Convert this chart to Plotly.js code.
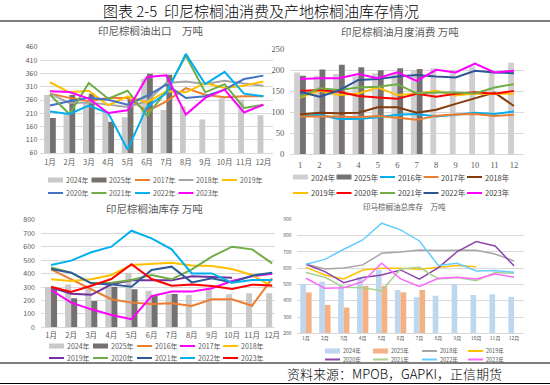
<!DOCTYPE html>
<html><head><meta charset="utf-8">
<script src="https://cdn.plot.ly/plotly-3.0.1.min.js"></script>
<style>html,body{margin:0;padding:0;background:#fff}#c{width:550px;height:385px}</style>
</head><body><div id="c"></div>
<script>
// ---------- DATA ----------
const months = ['1月','2月','3月','4月','5月','6月','7月','8月','9月','10月','11月','12月'];
const nums = ['1','2','3','4','5','6','7','8','9','10','11','12'];

// 印尼棕榈油出口 万吨
const exp2024 = [279, 210, 250, 218, 195, 340, 222, 235, 186, 267, 262, 202];
const exp2025 = [192, 279, 284, 178, 264, 359, 355];
const exp2017 = [284, 268, 255, 268, 268, 217, 255, 305, 280, 270, 274, 274];
const exp2018 = [284, 249, 251, 242, 234, 255, 324, 330, 320, 333, 322, 314];
const exp2019 = [327, 289, 295, 240, 274, 251, 293, 289, 324, 305, 314, 330];
const exp2020 = [239, 255, 268, 261, 242, 276, 318, 268, 274, 299, 339, 352];
const exp2021 = [280, 207, 324, 265, 295, 201, 293, 427, 289, 320, 230, 242];
const exp2022 = [217, 207, 239, 211, 73, 234, 286, 434, 320, 366, 284, 274];
const exp2023 = [293, 290, 265, 211, 221, 347, 353, 205, 268, 299, 213, 242];

// 印尼棕榈油月度消费 万吨
const con2024 = [195, 187, 191, 186, 193, 193, 201, 205, 201, 209, 201, 218];
const con2025 = [187, 202, 213, 207, 200, 205, 203];
const con2016 = [90, 94, 84, 84, 88, 94, 96, 90, 94, 99, 96, 102];
const con2017 = [90, 90, 90, 88, 91, 87, 82, 92, 95, 96, 91, 94];
const con2018 = [95, 99, 98, 99, 112, 112, 99, 106, 120, 133, 147, 115];
const con2019 = [135, 151, 141, 145, 159, 141, 144, 151, 140, 145, 144, 144];
const con2020 = [151, 153, 149, 139, 135, 132, 144, 137, 144, 148, 144, 151];
const con2021 = [137, 157, 153, 159, 161, 167, 145, 147, 147, 145, 159, 167];
const con2022 = [149, 137, 152, 177, 179, 185, 189, 185, 183, 199, 195, 193];
const con2023 = [179, 181, 181, 191, 181, 195, 175, 201, 195, 216, 195, 199];

// 印尼棕榈油库存 万吨
const stk2024 = [298, 320, 303, 330, 407, 273, 246, 241, 291, 246, 253, 253];
const stk2025 = [291, 216, 196, 303, 283, 233, 248];
const stk2016 = [432, 358, 283, 209, 184, 174, 179, 159, 209, 209, 161, 365];
const stk2017 = [278, 184, 134, 92, 60, 233, 266, 266, 291, 345, 380, 400];
const stk2018 = [358, 345, 358, 390, 464, 472, 482, 460, 457, 435, 390, 303];
const stk2019 = [298, 250, 242, 320, 350, 350, 350, 380, 375, 370, null, null];
const stk2020 = [447, 407, 328, 333, 353, 390, 358, 432, 527, 601, 581, 477];
const stk2021 = [435, 407, 328, 320, 303, 427, 452, 335, 365, 335, 385, 407];
const stk2022 = [464, 497, 559, 601, 720, 663, 581, 402, 402, 333, 353, 353];
const stk2023 = [303, 263, 310, 360, 470, 360, 310, 320, 308, 285, 318, 312];

// 印马棕榈油总库存 万吨
const tot2024 = [503, 517, 493, 544, 589, 466, 421, 431, 503, 435, 440, 425];
const tot2025 = [450, 374, 358, 491, 491, 452, 466];
const tot2018 = [624, 595, 601, 620, 691, 699, 712, 708, 710, 710, 687, 644];
const tot2019 = [605, 558, 534, 589, 599, 599, 593, 603, 616, 609, null, null];
const tot2020 = [624, 579, 511, 542, 558, 589, 532, 603, 702, 763, 736, 614];
const tot2021 = [573, 544, 482, 480, 462, 595, 605, 534, 542, 523, 573, 568];
const tot2022 = [624, 654, 716, 773, 876, 835, 767, 616, 630, 583, 585, 575];
const tot2023 = [538, 476, 480, 517, 630, 534, 487, 538, 544, 534, 564, 544];

// ---------- PANELS ----------
const W = 550, H = 385;
const PX = v => v / W, PY = v => 1 - v / H;
const CJK = '"Noto Sans CJK SC", "Noto Sans", sans-serif';

const panels = [
  { ax: '', cats: months, lw: 2,
    series: [
      {name:'2024年', y:exp2024, c:'#C9C9C9', bar:true},
      {name:'2025年', y:exp2025, c:'#767171', bar:true},
      {name:'2017年', y:exp2017, c:'#ED7D31'},
      {name:'2018年', y:exp2018, c:'#A5A5A5'},
      {name:'2019年', y:exp2019, c:'#FFC000'},
      {name:'2020年', y:exp2020, c:'#4472C4'},
      {name:'2021年', y:exp2021, c:'#70AD47'},
      {name:'2022年', y:exp2022, c:'#00B0F0'},
      {name:'2023年', y:exp2023, c:'#FF00FF'}],
    leg: {xs:[48,91.5,135,178.5,222], ys:[180,193], fs:7, sw:15, perRow:5, col:'#595959'} },
  { ax: '2', cats: nums, lw: 2,
    series: [
      {name:'2024年', y:con2024, c:'#D0CECE', bar:true},
      {name:'2025年', y:con2025, c:'#767171', bar:true},
      {name:'2016年', y:con2016, c:'#00B0F0'},
      {name:'2017年', y:con2017, c:'#ED7D31'},
      {name:'2018年', y:con2018, c:'#843C0C'},
      {name:'2019年', y:con2019, c:'#FFC000'},
      {name:'2020年', y:con2020, c:'#FF0000'},
      {name:'2021年', y:con2021, c:'#70AD47'},
      {name:'2022年', y:con2022, c:'#2F5597'},
      {name:'2023年', y:con2023, c:'#FF00FF'}],
    leg: {xs:[293,336.5,380,423.5,467], ys:[177,193], fs:7.5, sw:15, perRow:5, col:'#404040'} },
  { ax: '3', cats: months, lw: 2,
    series: [
      {name:'2024年', y:stk2024, c:'#C9C9C9', bar:true},
      {name:'2025年', y:stk2025, c:'#767171', bar:true},
      {name:'2016年', y:stk2016, c:'#ED7D31'},
      {name:'2017年', y:stk2017, c:'#FF00FF'},
      {name:'2018年', y:stk2018, c:'#FFC000'},
      {name:'2019年', y:stk2019, c:'#7030A0'},
      {name:'2020年', y:stk2020, c:'#70AD47'},
      {name:'2021年', y:stk2021, c:'#2E5C9A'},
      {name:'2022年', y:stk2022, c:'#00B0F0'},
      {name:'2023年', y:stk2023, c:'#FF0000'}],
    leg: {xs:[49,93,137,180,223], ys:[346,358], fs:7, sw:15, perRow:5, col:'#595959'} },
  { ax: '4', cats: months, lw: 1.5,
    series: [
      {name:'2024年', y:tot2024, c:'#BDD7EE', bar:true},
      {name:'2025年', y:tot2025, c:'#F4B183', bar:true},
      {name:'2018年', y:tot2018, c:'#A5A5A5'},
      {name:'2019年', y:tot2019, c:'#FFC000'},
      {name:'2020年', y:tot2020, c:'#8E44AD'},
      {name:'2021年', y:tot2021, c:'#A9D18E'},
      {name:'2022年', y:tot2022, c:'#66CCFF'},
      {name:'2023年', y:tot2023, c:'#FF66FF'}],
    leg: {xs:[325,373,422,468], ys:[351,359.5], fs:5.5, sw:15, perRow:4, col:'#595959'} }
];

const traces = [];
const shapes = [];
const annotations = [];

panels.forEach(p => {
  const xa = 'x' + p.ax, ya = 'y' + p.ax;
  p.series.filter(s => s.bar).forEach(s => traces.push({
    type:'bar', x:p.cats.slice(0, s.y.length), y:s.y, name:s.name, xaxis:xa, yaxis:ya,
    marker:{color:s.c}, showlegend:false, hoverinfo:'skip'
  }));
  p.series.filter(s => !s.bar).forEach(s => traces.push({
    type:'scatter', mode:'lines', x:p.cats, y:s.y, name:s.name, xaxis:xa, yaxis:ya,
    line:{color:s.c, width:p.lw}, showlegend:false, hoverinfo:'skip'
  }));
  // legend drawn from the series list
  const L = p.leg;
  p.series.forEach((s, i) => {
    const row = Math.floor(i / L.perRow), col = i % L.perRow;
    const x0 = L.xs[col], y0 = L.ys[row];
    if (s.bar) {
      shapes.push({type:'rect', xref:'paper', yref:'paper', x0:PX(x0), x1:PX(x0+L.sw),
        y0:PY(y0+2.5), y1:PY(y0-2.5), fillcolor:s.c, line:{width:0}});
    } else {
      shapes.push({type:'line', xref:'paper', yref:'paper', x0:PX(x0), x1:PX(x0+L.sw),
        y0:PY(y0), y1:PY(y0), line:{color:s.c, width:2}});
    }
    annotations.push({xref:'paper', yref:'paper', x:PX(x0+L.sw+0.5), y:PY(y0), xanchor:'left', yanchor:'middle',
      text:s.name, showarrow:false, font:{family:CJK, size:L.fs, color:L.col}});
  });
});

// chart titles
const titles = [
  {t:'印尼棕榈油出口　万吨', x:151, y:30, s:10.5},
  {t:'印尼棕榈油月度消费 万吨', x:400, y:31, s:10.5},
  {t:'印尼棕榈油库存 万吨', x:154, y:209, s:10.5},
  {t:'印马棕榈油总库存　万吨', x:404, y:207, s:7.5}
];
titles.forEach(t => annotations.push({xref:'paper', yref:'paper', x:PX(t.x), y:PY(t.y),
  xanchor:'center', yanchor:'middle', text:t.t, showarrow:false, font:{family:CJK, size:t.s, color:'#595959'}}));

annotations.push({xref:'paper', yref:'paper', x:PX(261), y:PY(10.5), xanchor:'center', yanchor:'middle',
  text:'图表 2-5  印尼棕榈油消费及产地棕榈油库存情况', showarrow:false, font:{family:CJK, size:15, color:'#000', weight:300}});
annotations.push({xref:'paper', yref:'paper', x:PX(504), y:PY(373.5), xanchor:'right', yanchor:'middle',
  text:'资料来源：MPOB，GAPKI，正信期货', showarrow:false, font:{family:CJK, size:13, color:'#000', weight:300}});

shapes.push({type:'line', xref:'paper', yref:'paper', x0:0, x1:1, y0:PY(21), y1:PY(21), line:{color:'#000', width:1}});
shapes.push({type:'line', xref:'paper', yref:'paper', x0:0, x1:1, y0:PY(363), y1:PY(363), line:{color:'#000', width:1}});
shapes.push({type:'line', xref:'paper', yref:'paper', x0:0, x1:1, y0:PY(383.5), y1:PY(383.5), line:{color:'#000', width:1}});

const grid = '#D9D9D9';
function xax(d0, d1, range, fs, fam, ya, standoff) {
  return {domain:[PX(d0), PX(d1)], anchor:ya, type:'category', range:range, fixedrange:true,
    showgrid:false, showline:true, linecolor:grid, linewidth:1, ticks:'',
    tickfont:{family:fam, size:fs, color:'#595959'}, ticklabelstandoff:standoff};
}
function yax(d0, d1, range, dtick, fs, fam, xa, standoff) {
  return {domain:[PY(d1), PY(d0)], anchor:xa, range:range, dtick:dtick, tick0:range[0], fixedrange:true,
    showgrid:true, gridcolor:grid, gridwidth:1, zeroline:false, showline:false, ticks:'',
    tickfont:{family:fam, size:fs, color:'#595959'}, ticklabelstandoff:standoff};
}

const layout = {
  width:W, height:H, margin:{l:0, r:0, t:0, b:0}, paper_bgcolor:'#fff', plot_bgcolor:'rgba(0,0,0,0)',
  showlegend:false, barmode:'group', bargap:0.4, bargroupgap:0,
  xaxis:  xax(40.3, 273.1, [-0.5, 11.5], 7.5, CJK, 'y', 2),
  yaxis:  yax(47, 153, [60, 460], 50, 7, CJK, 'x', 2),
  xaxis2: xax(290.3, 523.7, [-0.5, 11.5], 8.5, '"Liberation Serif", serif', 'y2', 2),
  yaxis2: yax(49.3, 154.3, [0, 250], 50, 8.5, '"Liberation Serif", serif', 'x2', 5),
  xaxis3: xax(41, 275, [-0.5, 11.14], 7.5, CJK, 'y3', 1),
  yaxis3: yax(220, 327.3, [0, 800], 100, 7, CJK, 'x3', 5),
  xaxis4: xax(296.5, 523.5, [-0.5, 11.5], 5, CJK, 'y4', 0),
  yaxis4: yax(219.3, 333.3, [200, 900], 100, 5, CJK, 'x4', 4),
  shapes:shapes, annotations:annotations
};

Plotly.newPlot('c', traces, layout, {staticPlot:true, displayModeBar:false});
</script></body></html>
